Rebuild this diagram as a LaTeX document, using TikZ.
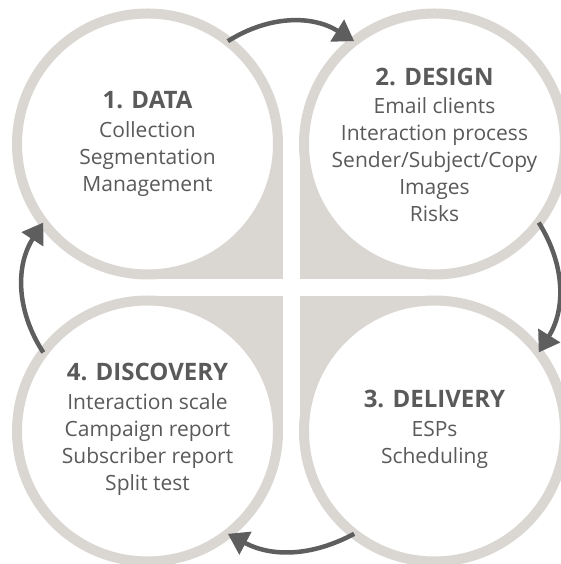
\documentclass[tikz,border=0pt]{standalone}
\usepackage{fontspec}
\setmainfont{Open Sans}
\usetikzlibrary{arrows.meta}
\definecolor{ring}{HTML}{DAD7D2}
\definecolor{arr}{HTML}{5E5E5E}
\definecolor{txt}{HTML}{5A5A5A}
\newcommand{\ttlfont}{\bfseries\fontsize{24}{27}\selectfont}
\begin{document}
\begin{tikzpicture}[x=1pt,y=1pt,
  quad/.style={fill=ring,draw=none},
  ringc/.style={circle,draw=ring,fill=white,line width=10pt,minimum size=261pt,inner sep=0pt,outer sep=0pt},
  cyc/.style={draw=arr,line width=4.5pt,-{Triangle[length=20pt,width=25pt]}},
  lbl/.style={text=txt,align=center,font=\fontsize{21}{27}\selectfont,inner sep=0pt}
]
\clip (0,0) rectangle (561,564);
% grey quadrants
\fill[quad] (147.5,420) rectangle (282.5,285);
\fill[quad] (299.5,420) rectangle (434.5,285);
\fill[quad] (299.5,268) rectangle (434.5,133);
\fill[quad] (147.5,268) rectangle (282.5,133);
% circles
\node[ringc] (c1) at (147.5,420) {};
\node[ringc] (c2) at (434.5,420) {};
\node[ringc] (c3) at (434.5,133) {};
\node[ringc] (c4) at (147.5,133) {};
% arrows
\draw[cyc] (c1.52) to[bend left=32] (c2.128);
\draw[cyc] (c2.-37) to[bend left=32] (c3.37);
\draw[cyc] (c3.-128) to[bend left=28] (c4.-52);
\draw[cyc] (c4.143) to[bend left=33] (c1.217);
% texts
\node[lbl] (t1) at ([yshift=0pt]c1.center) {{\ttlfont 1. DATA}\\[1.5pt]Collection\\Segmentation\\Management};
\node[lbl] (t2) at ([yshift=-1pt]c2.center) {{\ttlfont 2. DESIGN}\\[1.5pt]Email clients\\Interaction process\\Sender/Subject/Copy\\Images\\Risks};
\node[lbl] (t3) at ([yshift=1.5pt]c3.center) {{\ttlfont 3. DELIVERY}\\[1.5pt]ESPs\\Scheduling};
\node[lbl] (t4) at ([yshift=1.5pt]c4.center) {{\ttlfont 4. DISCOVERY}\\[1.5pt]Interaction scale\\Campaign report\\Subscriber report\\Split test};
\end{tikzpicture}
\end{document}
